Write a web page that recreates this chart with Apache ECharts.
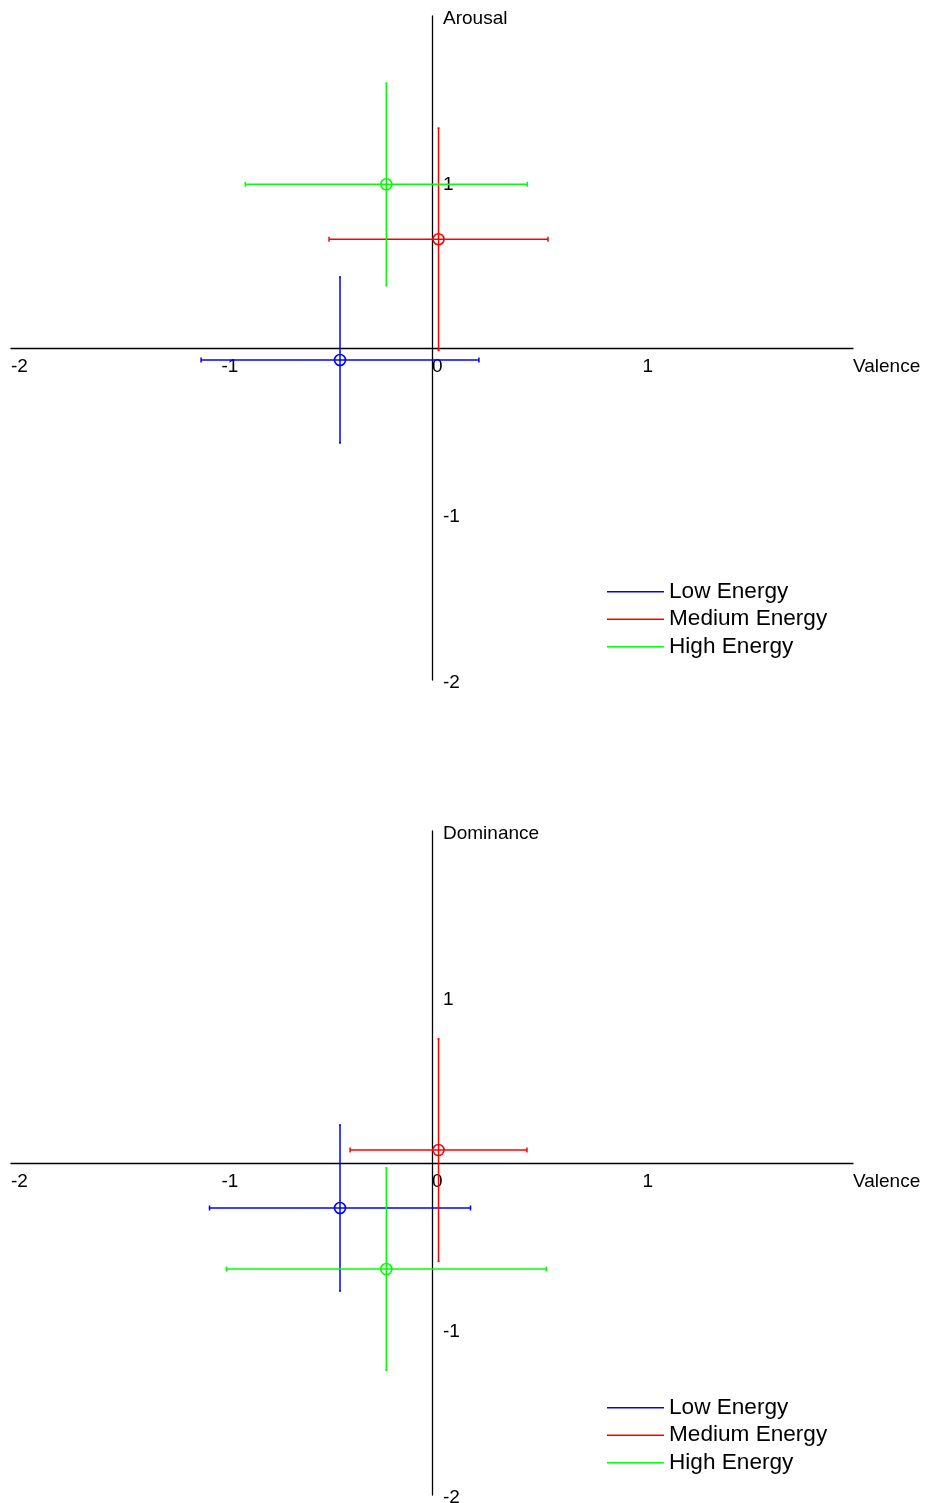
<!DOCTYPE html>
<html>
<head>
<meta charset="utf-8">
<script src="https://cdn.jsdelivr.net/npm/echarts@6/dist/echarts.min.js"></script>
<style>
  html, body { margin: 0; padding: 0; background: #fff; }
  #main { width: 926px; height: 1503px; }
</style>
</head>
<body>
<div id="main"></div>
<script>
// groups
var energyLevels = ['Low Energy', 'Medium Energy', 'High Energy'];
var energyColors = ['#0000ff', '#ff0000', '#00ff00'];

// valence (x) means, shared by both panels
var valenceMean = [-0.437, 0.031, -0.217];
// top panel: valence / arousal
var valenceErrTop = [0.66, 0.52, 0.67];
var arousalMean = [-0.072, 0.655, 0.986];
var arousalErr = [0.50, 0.67, 0.61];
// bottom panel: valence / dominance
var valenceErrBottom = [0.62, 0.42, 0.76];
var dominanceMean = [-0.271, 0.078, -0.639];
var dominanceErr = [0.50, 0.67, 0.61];

var fontName = 'Liberation Sans, Arial, sans-serif';

// grid box (px)
var gridLeft = 11, gridWidth = 842, gridHeight = 664;
var gridTops = [16, 831];

var myChart = echarts.init(document.getElementById('main'));

// draw one point with its two error bars
function renderCross(params, api) {
    var x = api.value(0), xe = api.value(1), y = api.value(2), ye = api.value(3);
    var c = api.coord([x, y]);
    var l = api.coord([x - xe, y]);
    var r = api.coord([x + xe, y]);
    var t = api.coord([x, y + ye]);
    var b = api.coord([x, y - ye]);
    var color = api.visual('color');
    var st = { stroke: color, lineWidth: 1.5, fill: null };
    function ln(x1, y1, x2, y2) {
        return { type: 'line', shape: { x1: x1, y1: y1, x2: x2, y2: y2 }, style: st };
    }
    return {
        type: 'group',
        children: [
            ln(l[0], l[1], r[0], r[1]),
            ln(l[0], l[1] - 2.5, l[0], l[1] + 2.5),
            ln(r[0], r[1] - 2.5, r[0], r[1] + 2.5),
            ln(t[0], t[1], b[0], b[1]),
            ln(t[0] - 1, t[1], t[0] + 1, t[1]),
            ln(b[0] - 1, b[1], b[0] + 1, b[1]),
            { type: 'circle', shape: { cx: c[0], cy: c[1], r: 5.5 }, style: { stroke: color, lineWidth: 1.6, fill: null } }
        ]
    };
}

// axes cross at 0: shift each axis from the grid edge to the middle
function xAxisFor(idx) {
    return {
        gridIndex: idx, type: 'value', min: -2, max: 2, interval: 1,
        position: 'bottom', offset: -gridHeight / 2,
        axisLine: { onZero: false, lineStyle: { color: '#000', width: 1.3 } },
        axisTick: { show: false },
        splitLine: { show: false },
        axisLabel: {
            align: 'left', verticalAlign: 'top', margin: 9,
            fontSize: 19, color: '#000', fontFamily: fontName,
            formatter: function (v) { return v === 2 ? 'Valence' : String(v); }
        }
    };
}

function yAxisFor(idx, name) {
    return {
        gridIndex: idx, type: 'value', min: -2, max: 2, interval: 1,
        position: 'left', offset: -gridWidth / 2,
        axisLine: { onZero: false, lineStyle: { color: '#000', width: 1.3 } },
        axisTick: { show: false },
        splitLine: { show: false },
        axisLabel: {
            inside: true, margin: 11,
            fontSize: 19, color: '#000', fontFamily: fontName,
            // a tall empty strut pushes the text a few px below the tick
            rich: {
                s: { width: 0, height: 24, lineHeight: 24 },
                t: { fontSize: 19, lineHeight: 19, verticalAlign: 'bottom', fontFamily: fontName, color: '#000' }
            },
            formatter: function (v) {
                var txt = v === 2 ? name : (v === 0 ? '' : String(v));
                return txt ? '{s| }{t|' + txt + '}' : '';
            }
        }
    };
}

var series = [];
for (var i = 0; i < energyLevels.length; i++) {
    series.push({
        name: energyLevels[i], type: 'custom', xAxisIndex: 0, yAxisIndex: 0,
        itemStyle: { color: energyColors[i] },
        encode: { x: 0, y: 2 },
        renderItem: renderCross,
        data: [[valenceMean[i], valenceErrTop[i], arousalMean[i], arousalErr[i]]]
    });
}
for (var j = 0; j < energyLevels.length; j++) {
    series.push({
        name: energyLevels[j], type: 'custom', xAxisIndex: 1, yAxisIndex: 1,
        itemStyle: { color: energyColors[j] },
        encode: { x: 0, y: 2 },
        renderItem: renderCross,
        data: [[valenceMean[j], valenceErrBottom[j], dominanceMean[j], dominanceErr[j]]]
    });
}

function legendAt(top) {
    return {
        orient: 'vertical', left: 607, top: top, padding: 0,
        itemGap: 0, itemWidth: 57, itemHeight: 1.5, icon: 'rect',
        selectedMode: false,
        textStyle: { fontSize: 22.6, lineHeight: 27.5, color: '#000', fontFamily: fontName },
        data: energyLevels
    };
}

var option = {
    animation: false,
    backgroundColor: '#fff',
    grid: [
        { left: gridLeft, width: gridWidth, top: gridTops[0], height: gridHeight, outerBoundsMode: 'none' },
        { left: gridLeft, width: gridWidth, top: gridTops[1], height: gridHeight, outerBoundsMode: 'none' }
    ],
    xAxis: [xAxisFor(0), xAxisFor(1)],
    yAxis: [yAxisFor(0, 'Arousal'), yAxisFor(1, 'Dominance')],
    legend: [legendAt(578), legendAt(1394)],
    series: series
};
myChart.setOption(option);
</script>
</body>
</html>
